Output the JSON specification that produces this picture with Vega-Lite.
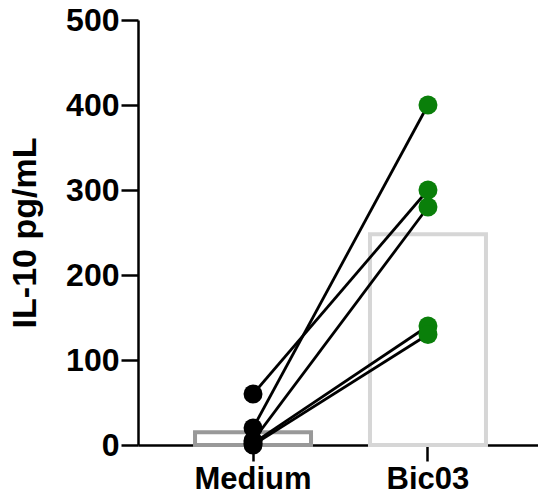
{
  "$schema": "https://vega.github.io/schema/vega-lite/v6.json",
  "autosize": "none",
  "width": 405,
  "height": 425,
  "padding": {"left": 138, "top": 20, "right": 0, "bottom": 54},
  "background": "white",
  "datasets": {
    "bars": [
      {"group": "Medium", "value": 15},
      {"group": "Bic03", "value": 248}
    ],
    "points": [
      {"subject": "s1", "group": "Medium", "value": 60},
      {"subject": "s1", "group": "Bic03", "value": 300},
      {"subject": "s2", "group": "Medium", "value": 20},
      {"subject": "s2", "group": "Bic03", "value": 400},
      {"subject": "s3", "group": "Medium", "value": 5},
      {"subject": "s3", "group": "Bic03", "value": 280},
      {"subject": "s4", "group": "Medium", "value": 2},
      {"subject": "s4", "group": "Bic03", "value": 140},
      {"subject": "s5", "group": "Medium", "value": 0},
      {"subject": "s5", "group": "Bic03", "value": 130}
    ]
  },
  "encoding": {
    "x": {
      "field": "group", "type": "nominal", "sort": ["Medium", "Bic03"],
      "scale": {"paddingInner": 0.337, "paddingOuter": 0.326},
      "axis": {"title": null, "labelAngle": 0, "labelFontSize": 31, "labelPadding": 3, "tickSize": 16}
    },
    "y": {
      "field": "value", "type": "quantitative",
      "scale": {"domain": [0, 500], "nice": false},
      "axis": {"values": [0, 100, 200, 300, 400, 500], "title": "IL-10 pg/mL", "titleFontSize": 34, "titlePadding": 23, "labelFontSize": 32, "tickSize": 17, "labelPadding": 2}
    }
  },
  "layer": [
    {
      "data": {"name": "bars"},
      "mark": {"type": "bar", "fill": "white", "fillOpacity": 0, "strokeWidth": 4},
      "encoding": {
        "stroke": {"field": "group", "type": "nominal", "scale": {"domain": ["Medium", "Bic03"], "range": ["#999999", "#d6d6d6"]}, "legend": null}
      }
    },
    {
      "data": {"name": "points"},
      "mark": {"type": "line", "color": "black", "strokeWidth": 2.8},
      "encoding": {"detail": {"field": "subject"}}
    },
    {
      "data": {"name": "points"},
      "mark": {"type": "circle", "size": 360, "opacity": 1},
      "encoding": {
        "color": {"field": "group", "type": "nominal", "scale": {"domain": ["Medium", "Bic03"], "range": ["black", "#0a7f0a"]}, "legend": null}
      }
    }
  ],
  "config": {
    "view": {"stroke": null},
    "axis": {
      "grid": false,
      "domainColor": "black", "domainWidth": 2.5,
      "tickColor": "black", "tickWidth": 2.5,
      "labelColor": "black", "labelFont": "Liberation Sans", "labelFontWeight": "bold",
      "titleColor": "black", "titleFont": "Liberation Sans", "titleFontWeight": "bold"
    }
  }
}
